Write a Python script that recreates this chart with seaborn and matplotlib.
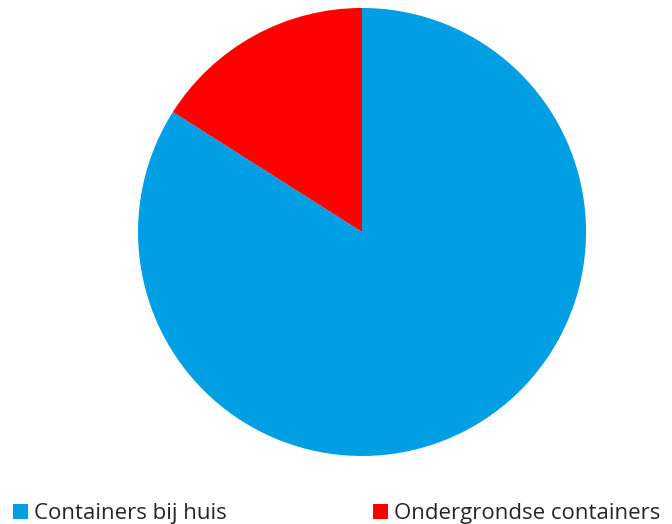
import matplotlib
matplotlib.use("Agg")
import matplotlib.pyplot as plt
import seaborn as sns
from matplotlib.patches import Patch

sns.set_theme(style="white")
plt.rcParams['font.family'] = ['Open Sans', 'DejaVu Sans']

# --- data ---
labels = ["Containers bij huis", "Ondergrondse containers"]
values = [84, 16]
colors = ["#009FE3", "#FF0000"]

fig = plt.figure(figsize=(6.72, 5.24), dpi=100)
ax = fig.add_axes([0.2054, 0.1298, 0.6667, 0.855])
ax.pie(values, colors=colors, startangle=90, counterclock=False,
       wedgeprops=dict(linewidth=0))
ax.set_xlim(-1, 1)
ax.set_ylim(-1, 1)
ax.set_aspect("equal")
ax.axis("off")

# one legend per entry so each can sit where the reference has it
legend_x = [13 / 672, 373 / 672]
for lab, col, x0 in zip(labels, colors, legend_x):
    leg = fig.legend([Patch(facecolor=col, edgecolor="none")], [lab],
                     loc="lower left", bbox_to_anchor=(x0, 0.0),
                     frameon=False, fontsize=16, handlelength=0.68,
                     handleheight=0.68, handletextpad=0.28,
                     borderpad=0.0, borderaxespad=0.0)

fig.savefig("out.png", dpi=100)
